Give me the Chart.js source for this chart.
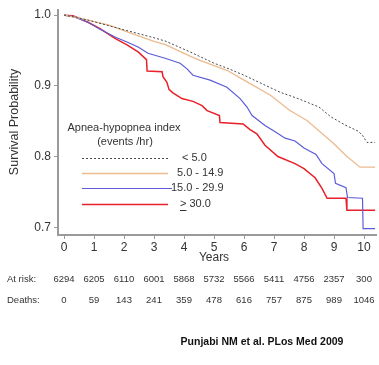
<!DOCTYPE html>
<html>
<head>
<meta charset="utf-8">
<script src="https://cdn.jsdelivr.net/npm/chart.js@4/dist/chart.umd.min.js"></script>
<style>
  html, body { margin: 0; padding: 0; background: #fff; }
  canvas { display: block; }
</style>
</head>
<body>
<canvas id="survival" width="379" height="365"></canvas>
<script>
(function () {
  'use strict'

  /** Kaplan-Meier curves by AHI group (years, survival) */
  var lowYears = [0, 0.4, 0.8, 1.5, 2.2, 3.0, 3.4, 4.2, 5.0, 5.5, 6.0, 6.5, 7.2, 7.8, 8.5, 8.9, 9.4, 9.8, 9.95, 10.1, 10.37]
  var lowSurv = [1.0, 0.997, 0.993, 0.985, 0.977, 0.968, 0.963, 0.948, 0.932, 0.924, 0.915, 0.905, 0.891, 0.882, 0.87, 0.856, 0.844, 0.836, 0.83, 0.82, 0.82]

  var mildYears = [0, 0.4, 0.8, 1.5, 2.2, 3.0, 3.4, 4.2, 4.53, 5.43, 6.0, 6.87, 7.53, 8.1, 8.97, 9.43, 9.87, 10.37]
  var mildSurv = [1.0, 0.997, 0.993, 0.986, 0.975, 0.963, 0.958, 0.942, 0.936, 0.922, 0.908, 0.887, 0.865, 0.851, 0.819, 0.8, 0.785, 0.785]

  var modYears = [0, 0.3, 0.8, 1.2, 1.7, 2.1, 2.47, 2.8, 3.37, 3.87, 4.1, 4.3, 4.87, 5.43, 5.87, 6.1, 6.27, 6.7, 7.0, 7.37, 7.7, 8.0, 8.4, 8.6, 9.0, 9.05, 9.4, 9.45, 9.95, 9.97, 10.37]
  var modSurv = [1.0, 0.998, 0.99, 0.98, 0.969, 0.962, 0.955, 0.946, 0.939, 0.932, 0.924, 0.915, 0.908, 0.898, 0.882, 0.87, 0.858, 0.844, 0.836, 0.826, 0.822, 0.812, 0.803, 0.79, 0.776, 0.762, 0.756, 0.742, 0.741, 0.698, 0.698]

  var sevYears = [0, 0.3, 0.8, 1.2, 1.7, 2.1, 2.47, 2.75, 2.77, 3.27, 3.3, 3.43, 3.5, 3.63, 3.93, 4.3, 4.6, 4.77, 5.18, 5.2, 5.97, 6.2, 6.43, 6.7, 7.13, 7.7, 8.0, 8.37, 8.6, 8.77, 9.4, 9.43, 10.37]
  var sevSurv = [1.0, 0.999, 0.99, 0.981, 0.967, 0.958, 0.948, 0.937, 0.921, 0.92, 0.913, 0.905, 0.895, 0.89, 0.882, 0.878, 0.872, 0.865, 0.858, 0.848, 0.846, 0.838, 0.832, 0.816, 0.8, 0.79, 0.783, 0.77, 0.755, 0.741, 0.741, 0.724, 0.724]

  var groupLabels = ['< 5.0', '5.0 - 14.9', '15.0 - 29.9', '30.0']

  /** Number at risk and cumulative deaths per year */
  var yearTicks = [0, 1, 2, 3, 4, 5, 6, 7, 8, 9, 10]
  var atRisk = [6294, 6205, 6110, 6001, 5868, 5732, 5566, 5411, 4756, 2357, 300]
  var deaths = [0, 59, 143, 241, 359, 478, 616, 757, 875, 989, 1046]
  var survTicks = [0.7, 0.8, 0.9, 1.0]

  var FONT = 'Liberation Sans, Arial, Helvetica, sans-serif'
  var AXIS = '#9a9a9a'
  var TEXT = '#333'

  function pts (xs, ys) {
    return xs.map(function (x, i) { return { x: x, y: ys[i] } })
  }

  var styles = [
    { color: '#4a4a4a', width: 1, dash: [2, 2] },
    { color: '#ebbb8e', width: 1.3, dash: [] },
    { color: '#5c5cd8', width: 1.2, dash: [] },
    { color: '#e8202a', width: 1.5, dash: [] }
  ]

  var series = [pts(lowYears, lowSurv), pts(mildYears, mildSurv), pts(modYears, modSurv), pts(sevYears, sevSurv)]

  var datasets = series.map(function (d, i) {
    return {
      label: groupLabels[i],
      data: d,
      borderColor: styles[i].color,
      borderWidth: styles[i].width,
      borderDash: styles[i].dash,
      pointRadius: 0,
      fill: false,
      tension: 0
    }
  })

  // titles, legend, risk table and citation
  var extras = {
    id: 'extras',
    afterDraw: function (chart) {
      var c = chart.ctx
      var xs = chart.scales.x
      c.save()
      c.fillStyle = TEXT

      // y axis title
      c.save()
      c.translate(15, 122)
      c.rotate(-Math.PI / 2)
      c.font = '12.5px ' + FONT
      c.textAlign = 'center'
      c.textBaseline = 'middle'
      c.fillText('Survival Probability', 0, 0)
      c.restore()

      c.font = '12px ' + FONT
      c.textAlign = 'center'
      c.textBaseline = 'middle'
      c.fillText('Years', xs.getPixelForValue(5), 258)

      // legend inside plot
      c.font = '11px ' + FONT
      c.fillText('Apnea-hypopnea index', 124, 128)
      c.fillText('(events /hr)', 125, 142)

      var rows = [158, 173, 188, 204]
      var lineEnd = [168, 168, 172, 168]
      var labelX = [182, 177, 171, 180]
      c.font = '11px ' + FONT
      c.textAlign = 'left'
      rows.forEach(function (y, i) {
        c.beginPath()
        c.strokeStyle = styles[i].color
        c.lineWidth = styles[i].width
        c.setLineDash(styles[i].dash)
        c.moveTo(82, y + 0.5)
        c.lineTo(lineEnd[i], y + 0.5)
        c.stroke()
        c.setLineDash([])
        if (i === 3) {
          // ">" with an underline
          var w = c.measureText('>').width
          c.fillText('>', labelX[i], y)
          c.beginPath()
          c.strokeStyle = TEXT
          c.lineWidth = 1
          c.moveTo(labelX[i], y + 6.5)
          c.lineTo(labelX[i] + w, y + 6.5)
          c.stroke()
          c.fillText(groupLabels[i], labelX[i] + w + 3, y)
        } else {
          c.fillText(groupLabels[i], labelX[i], y)
        }
      })

      // risk table
      c.font = '9.5px ' + FONT
      c.textAlign = 'left'
      c.fillText('At risk:', 7, 279)
      c.fillText('Deaths:', 7, 300)
      c.textAlign = 'center'
      yearTicks.forEach(function (t, i) {
        var px = xs.getPixelForValue(t)
        c.fillText(String(atRisk[i]), px, 279)
        c.fillText(String(deaths[i]), px, 300)
      })

      c.font = 'bold 10.5px ' + FONT
      c.fillStyle = '#111'
      c.fillText('Punjabi NM et al. PLos Med 2009', 262, 342)
      c.restore()
    }
  }

  var ctx = document.getElementById('survival')

  var config = {
    type: 'line',
    data: { datasets: datasets },
    options: {
      responsive: false,
      animation: false,
      layout: { padding: { top: 10, right: 3, left: 0, bottom: 0 } },
      plugins: {
        legend: { display: false },
        tooltip: { enabled: false }
      },
      scales: {
        x: {
          type: 'linear',
          min: -0.2,
          max: 10.4,
          afterBuildTicks: function (s) { s.ticks = yearTicks.map(function (v) { return { value: v } }) },
          afterFit: function (s) { s.height = 130 },
          grid: { drawOnChartArea: false, drawTicks: true, tickLength: 4, color: AXIS, lineWidth: 1 },
          border: { color: AXIS, width: 2 },
          ticks: { color: TEXT, font: { family: FONT, size: 12 }, padding: 1, maxRotation: 0 }
        },
        y: {
          min: 0.689,
          max: 1.007,
          afterBuildTicks: function (s) { s.ticks = survTicks.map(function (v) { return { value: v } }) },
          afterFit: function (s) { s.width = 58 },
          grid: { drawOnChartArea: false, drawTicks: true, tickLength: 4, color: AXIS, lineWidth: 1 },
          border: { color: AXIS, width: 2 },
          ticks: {
            color: TEXT,
            font: { family: FONT, size: 12 },
            padding: 3,
            callback: function (v) { return v.toFixed(1) }
          }
        }
      }
    },
    plugins: [extras]
  }

  var survivalChart = new Chart(ctx, config)
})()
</script>
</body>
</html>
